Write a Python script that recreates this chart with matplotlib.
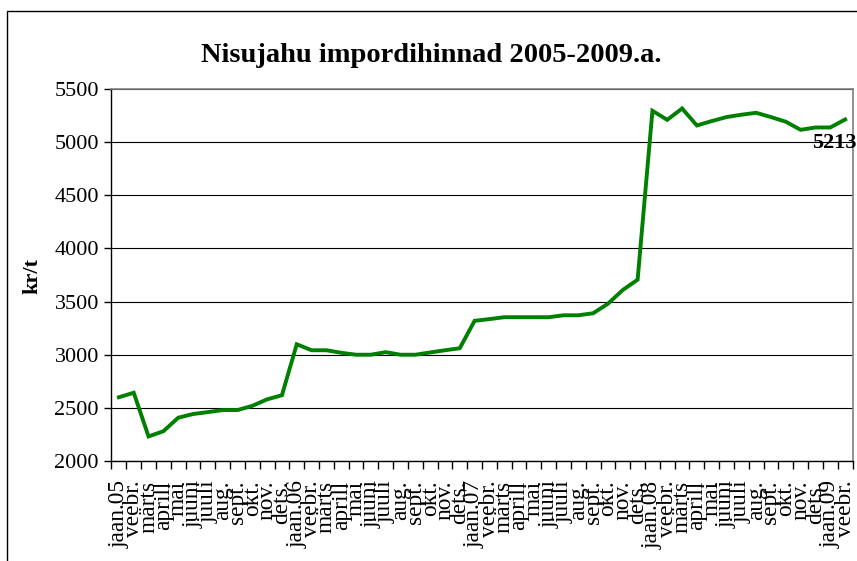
import matplotlib
matplotlib.use("Agg")
import matplotlib.pyplot as plt
from matplotlib.lines import Line2D
import numpy as np

# Nisujahu impordihinnad, kr/t (loetud pildilt)
months = ['jaan.', 'veebr.', 'märts', 'aprill', 'mai', 'juuni', 'juuli',
          'aug.', 'sept.', 'okt.', 'nov.', 'dets.']
years = ['05', '06', '07', '08', '09']
prices = [2600, 2642, 2231, 2280, 2407, 2442, 2460, 2479, 2479, 2519, 2580, 2619,
          3098, 3042, 3042, 3018, 3000, 3000, 3024, 3000, 3000, 3021, 3042, 3061,
          3319, 3335, 3353, 3353, 3353, 3353, 3371, 3371, 3390, 3480, 3609, 3706,
          5295, 5210, 5317, 5157, 5198, 5236, 5258, 5276, 5236, 5192, 5116, 5138,
          5138, 5213]
last_label = '5213'

labels = []
for i in range(len(prices)):
    m = months[i % 12]
    if i % 12 == 0:
        m = m + years[i // 12]
    labels.append(m)

plt.rcParams['font.family'] = ['Liberation Serif', 'DejaVu Serif']

W, H = 857, 561
fig = plt.figure(figsize=(W / 100, H / 100), dpi=100)
ax = fig.add_axes([111.5 / W, (H - 461) / H, (852.5 - 111.5) / W, (461 - 89) / H])

x = np.arange(len(prices))
ax.plot(x, prices, color='#008000', linewidth=2.8, solid_joinstyle='miter', zorder=3)

ax.set_xlim(-0.5, len(prices) - 0.5)
ax.set_ylim(2000, 5500)
ax.set_yticks(np.arange(2000, 5501, 500))
ax.tick_params(axis='y', labelsize=16, length=5, width=1, color='black', pad=4)
ax.yaxis.grid(True, color='black', linewidth=0.8)
ax.set_axisbelow(True)

ax.set_xticks(x)
ax.set_xticklabels(labels, rotation=90, fontsize=16.8, va='top', ha='center')
ax.set_xticks(np.arange(-0.5, len(prices)), minor=True)
ax.tick_params(axis='x', which='major', length=0, pad=14)
ax.tick_params(axis='x', which='minor', length=6, width=1, color='black')

for s in ['top', 'right']:
    ax.spines[s].set_color('#808080')
    ax.spines[s].set_linewidth(1.2)
for s in ['left', 'bottom']:
    ax.spines[s].set_color('black')
    ax.spines[s].set_linewidth(1)

ax.annotate(last_label, (x[-1], prices[-1]), xytext=(-11, -23),
            textcoords='offset pixels', ha='center', va='center',
            fontsize=16, fontweight='bold', annotation_clip=False)

fig.text(431 / W, 1 - 56 / H, 'Nisujahu impordihinnad 2005-2009.a.',
         ha='center', va='center', fontsize=20.5, fontweight='bold')
fig.text(32 / W, 1 - 276 / H, 'kr/t', rotation=90, ha='center', va='center',
         fontsize=16, fontweight='bold')

# raam ümber diagrammi
bx, by = 7 / W, 1 - 11 / H
fig.add_artist(Line2D([bx, bx, 1.01], [-0.01, by, by], color='black',
                      linewidth=1, transform=fig.transFigure))

fig.savefig('out.png', dpi=100)
